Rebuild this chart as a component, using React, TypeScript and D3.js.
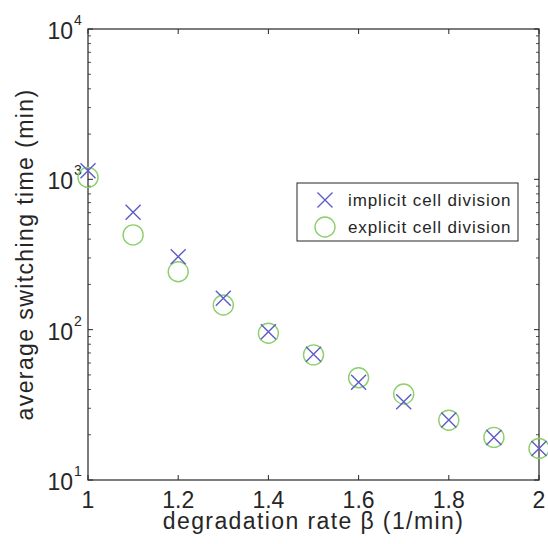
import React from "react";
import * as d3 from "d3";

const betaValues = [1, 1.1, 1.2, 1.3, 1.4, 1.5, 1.6, 1.7, 1.8, 1.9, 2];
const implicitTimes = [1140, 604, 306, 162, 97, 68.5, 44.7, 33.2, 25.1, 19.2, 16.2];
const explicitTimes = [1030, 427, 243, 146, 94.7, 68, 47.9, 37.3, 25, 19.2, 16.2];
const xTicks = [1, 1.2, 1.4, 1.6, 1.8, 2];
const xTickLabels = ["1", "1.2", "1.4", "1.6", "1.8", "2"];
const yTickExponents = [1, 2, 3, 4];
const seriesNames = ["implicit cell division", "explicit cell division"];
const xLabel = "degradation rate \u03b2 (1/min)";
const yLabel = "average switching time (min)";

const W = 548;
const H = 544;
const L = 88, R = 539, T = 29, B = 480;
const AX = "#262626";
const BLUE = "#5c5cc8";
const GREEN = "#8ccf6c";
const FONT = "'Liberation Sans', Arial, Helvetica, sans-serif";

export default function App() {
  const x = d3.scaleLinear().domain([1, 2]).range([L, R]);
  const y = d3.scaleLog().domain([10, 10000]).range([B, T]);

  const minor: number[] = [];
  for (let e = 1; e < 4; e++) {
    for (let k = 2; k <= 9; k++) minor.push(k * Math.pow(10, e));
  }

  const xMark = (cx: number, cy: number, key: string) => {
    const h = 7.5;
    return (
      <path
        key={key}
        d={`M${cx - h},${cy - h}L${cx + h},${cy + h}M${cx - h},${cy + h}L${cx + h},${cy - h}`}
        stroke={BLUE}
        strokeWidth={1.4}
        fill="none"
      />
    );
  };

  return (
    <svg
      width={W}
      height={H}
      style={{ position: "absolute", left: 0, top: 0, display: "block", background: "#fff" }}
      fontFamily={FONT}
    >
      <rect x={0} y={0} width={W} height={H} fill="#fff" />
      {/* minor y ticks */}
      {minor.map((v, i) => (
        <g key={"m" + i} stroke={AX} strokeWidth={0.8}>
          <line x1={L} x2={L + 3} y1={y(v)} y2={y(v)} />
          <line x1={R} x2={R - 3} y1={y(v)} y2={y(v)} />
        </g>
      ))}
      {/* major y ticks */}
      {yTickExponents.map((e) => (
        <g key={"ym" + e} stroke={AX} strokeWidth={1}>
          <line x1={L} x2={L + 5} y1={y(Math.pow(10, e))} y2={y(Math.pow(10, e))} />
          <line x1={R} x2={R - 5} y1={y(Math.pow(10, e))} y2={y(Math.pow(10, e))} />
        </g>
      ))}
      {/* x ticks */}
      {xTicks.map((t, i) => (
        <g key={"xt" + i} stroke={AX} strokeWidth={1}>
          <line x1={x(t)} x2={x(t)} y1={B} y2={B - 5} />
          <line x1={x(t)} x2={x(t)} y1={T} y2={T + 5} />
        </g>
      ))}
      {/* box */}
      <rect x={L} y={T} width={R - L} height={B - T} fill="none" stroke={AX} strokeWidth={1.2} />
      {/* x tick labels */}
      {xTicks.map((t, i) => (
        <text key={"xl" + i} x={x(t)} y={508} textAnchor="middle" fontSize={23} fill={AX}>
          {xTickLabels[i]}
        </text>
      ))}
      {/* y tick labels */}
      {yTickExponents.map((e) => {
        const yy = y(Math.pow(10, e));
        return (
          <g key={"yl" + e} fill={AX}>
            <text x={73} y={yy + 10} textAnchor="end" fontSize={23}>10</text>
            <text x={74} y={yy - 4} textAnchor="start" fontSize={14}>{String(e)}</text>
          </g>
        );
      })}
      {/* axis labels */}
      <text x={(L + R) / 2} y={529} textAnchor="middle" fontSize={23} letterSpacing={1.4} fill={AX}>
        {xLabel}
      </text>
      <text
        transform={`translate(33,${(T + B) / 2}) rotate(-90)`}
        textAnchor="middle"
        fontSize={23}
        letterSpacing={1.4}
        fill={AX}
      >
        {yLabel}
      </text>
      {/* data */}
      {explicitTimes.map((v, i) => (
        <circle key={"c" + i} cx={x(betaValues[i])} cy={y(v)} r={10} fill="none" stroke={GREEN} strokeWidth={1.4} />
      ))}
      {implicitTimes.map((v, i) => xMark(x(betaValues[i]), y(v), "x" + i))}
      {/* legend */}
      <rect x={297} y={183} width={221} height={58} fill="#fff" stroke={AX} strokeWidth={1} />
      {xMark(325, 200, "lx")}
      <circle cx={325} cy={227} r={10} fill="none" stroke={GREEN} strokeWidth={1.4} />
      <text x={348} y={206} fontSize={17} letterSpacing={0.9} fill={AX}>{seriesNames[0]}</text>
      <text x={348} y={233} fontSize={17} letterSpacing={0.9} fill={AX}>{seriesNames[1]}</text>
    </svg>
  );
}
